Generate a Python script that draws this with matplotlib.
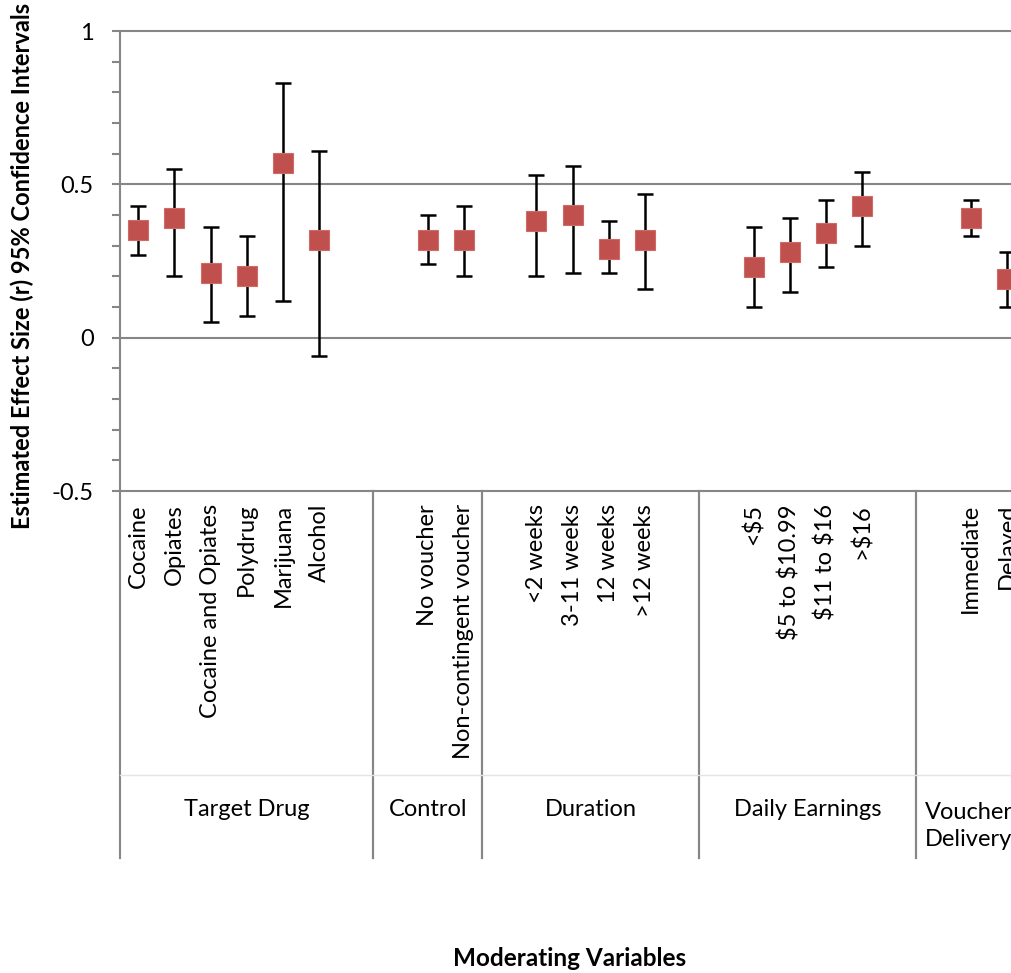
import matplotlib
matplotlib.use("Agg")
import matplotlib.pyplot as plt
import matplotlib.transforms as mtransforms

plt.rcParams['font.family'] = ['Lato', 'DejaVu Sans']
plt.rcParams['text.parse_math'] = False

# ---- data ----
groups = ["Target Drug", "Control", "Duration", "Daily Earnings", "Voucher\nDelivery"]
group_items = [
    ["Cocaine", "Opiates", "Cocaine and Opiates", "Polydrug", "Marijuana", "Alcohol"],
    ["No voucher", "Non-contingent voucher"],
    ["<2 weeks", "3-11 weeks", "12 weeks", ">12 weeks"],
    ["<$5", "$5 to $10.99", "$11 to $16", ">$16"],
    ["Immediate", "Delayed"],
]
estimates = [
    [0.35, 0.39, 0.21, 0.20, 0.57, 0.32],
    [0.32, 0.32],
    [0.38, 0.40, 0.29, 0.32],
    [0.23, 0.28, 0.34, 0.43],
    [0.39, 0.19],
]
lower_ci = [
    [0.27, 0.20, 0.05, 0.07, 0.12, -0.06],
    [0.24, 0.20],
    [0.20, 0.21, 0.21, 0.16],
    [0.10, 0.15, 0.23, 0.30],
    [0.33, 0.10],
]
upper_ci = [
    [0.43, 0.55, 0.36, 0.33, 0.83, 0.61],
    [0.40, 0.43],
    [0.53, 0.56, 0.38, 0.47],
    [0.36, 0.39, 0.45, 0.54],
    [0.45, 0.28],
]
# blank slots before / after each group's items (category layout)
lead_blank = [0, 1, 1, 1, 1]
trail_blank = [1, 0, 1, 1, 0]

# ---- build slot positions ----
xs, ys, lo, hi, labels = [], [], [], [], []
group_spans = []
slot = 0
for g, items in enumerate(group_items):
    start = slot
    slot += lead_blank[g]
    for i, name in enumerate(items):
        xs.append(slot)
        ys.append(estimates[g][i])
        lo.append(lower_ci[g][i])
        hi.append(upper_ci[g][i])
        labels.append(name)
        slot += 1
    slot += trail_blank[g]
    group_spans.append((start - 0.5, slot - 0.5))
n_slots = slot

W, H = 1011, 973
fig = plt.figure(figsize=(W / 100, H / 100), dpi=100)
left_px, top_px, bottom_px = 120, 31, 491
slot_px = 36.2
right_px = left_px + slot_px * n_slots
ax = fig.add_axes([left_px / W, 1 - bottom_px / H, (right_px - left_px) / W,
                   (bottom_px - top_px) / H])

grid_col = "#868686"
FS = 17
ax.set_xlim(-0.5, n_slots - 0.5)
ax.set_ylim(-0.5, 1.0)
for yv in [0.0, 0.5, 1.0]:
    ax.axhline(yv, color=grid_col, lw=1.5, zorder=1, clip_on=False)

yerr = [[y - l for y, l in zip(ys, lo)], [h - y for y, h in zip(ys, hi)]]
ax.errorbar(xs, ys, yerr=yerr, fmt='none', ecolor='black', elinewidth=1.8,
            capsize=6, capthick=1.8, zorder=2)
ax.plot(xs, ys, linestyle='none', marker='s', markersize=14.5,
        markerfacecolor='#C0504D', markeredgecolor='#D06A67', markeredgewidth=0.8,
        zorder=3)

for s in ['top', 'right']:
    ax.spines[s].set_visible(False)
ax.spines['left'].set_color(grid_col)
ax.spines['left'].set_linewidth(1.5)
ax.spines['bottom'].set_color(grid_col)
ax.spines['bottom'].set_linewidth(1.5)

yt = [-0.5 + 0.1 * i for i in range(16)]
named = {-0.5: "-0.5", 0.0: "0", 0.5: "0.5", 1.0: "1"}
ax.set_yticks(yt)
ax.set_yticklabels([named.get(round(v, 2), "") for v in yt], fontsize=FS)
ax.tick_params(axis='y', length=6, width=1.5, color=grid_col, pad=13)
ax.set_xticks([])

# category tick labels
trans = mtransforms.blended_transform_factory(ax.transData, fig.transFigure)
y_lab_top = 1 - 504 / H
for x, name in zip(xs, labels):
    ax.text(x, y_lab_top, name, rotation=90, ha='center', va='top',
            fontsize=FS, transform=trans, clip_on=False)

# group separators and labels
sep_bottom = 1 - 858 / H
for (a, b), gname in zip(group_spans, groups):
    for xx in (a, b):
        ax.plot([xx, xx], [1 - bottom_px / H, sep_bottom], color=grid_col, lw=1.5,
                transform=trans, clip_on=False)
    if "\n" in gname:
        ax.text(925 / W, 1 - 826 / H, gname, ha='left', va='center',
                multialignment='left', fontsize=FS, transform=fig.transFigure,
                clip_on=False, linespacing=1.3)
    else:
        ax.text((a + b) / 2, 1 - 810 / H, gname, ha='center', va='center', fontsize=FS,
                transform=trans, clip_on=False)
ax.plot([-0.5, n_slots - 0.5], [1 - 775 / H] * 2, color="#E4E4E4", lw=1,
        transform=trans, clip_on=False)

fig.text(22 / W, 1 - 266 / H, "Estimated Effect Size (r) 95% Confidence Intervals",
         rotation=90, ha='center', va='center', fontsize=17, fontweight='bold')
fig.text(570 / W, 1 - 958 / H, "Moderating Variables", ha='center', va='center',
         fontsize=17.5, fontweight='bold')

fig.savefig("out.png", dpi=100)
